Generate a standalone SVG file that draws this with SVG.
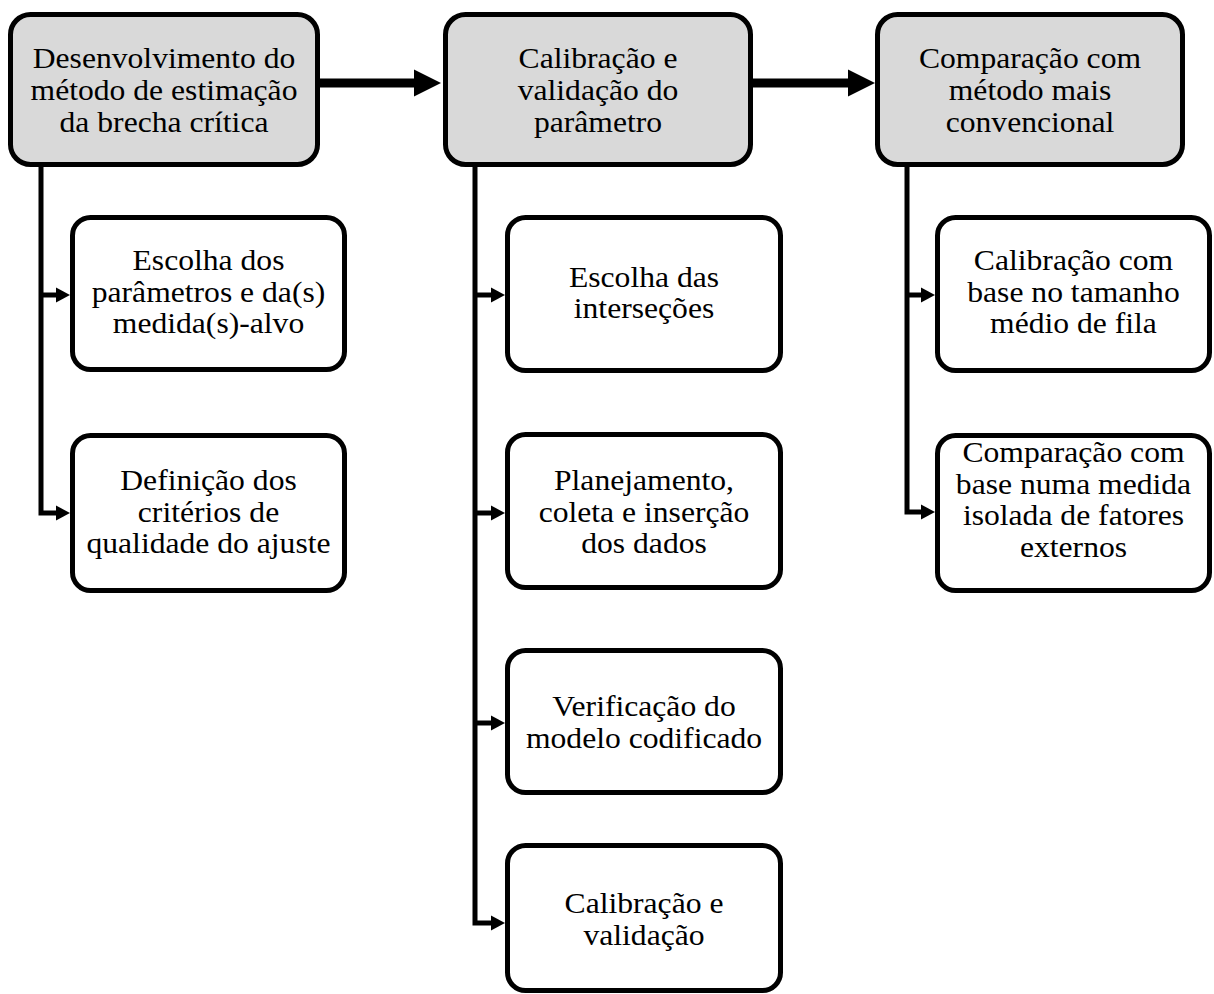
<svg xmlns="http://www.w3.org/2000/svg" width="1214" height="994" viewBox="0 0 1214 994">
<style>
.box{fill:#ffffff;stroke:#000;stroke-width:5}
.main{fill:#d9d9d9;stroke:#000;stroke-width:5}
.t{font-family:"Liberation Serif","Times New Roman",serif;font-size:28.5px;fill:#000;text-anchor:middle}
.big{stroke:#000;stroke-width:9;fill:none}
.br{stroke:#000;stroke-width:5;fill:none;stroke-linejoin:miter}
</style>
<defs>
<marker id="ahBig" markerUnits="userSpaceOnUse" markerWidth="28" markerHeight="28" refX="0" refY="13.5" orient="auto" overflow="visible">
<path d="M0,0 L27,13.5 L0,27 z" fill="#000"/>
</marker>
<marker id="ahSm" markerUnits="userSpaceOnUse" markerWidth="15" markerHeight="16" refX="0" refY="7.5" orient="auto" overflow="visible">
<path d="M0,0 L14,7.5 L0,15 z" fill="#000"/>
</marker>
</defs>
<rect width="1214" height="994" fill="#fff"/>
<g id="connectors">
<line class="big" x1="320" y1="83" x2="414" y2="83" marker-end="url(#ahBig)"/>
<line class="big" x1="753" y1="83" x2="848" y2="83" marker-end="url(#ahBig)"/>
<path class="br" d="M41,167 V513 H56" marker-end="url(#ahSm)"/>
<path class="br" d="M41,295 H56" marker-end="url(#ahSm)"/>
<path class="br" d="M475,167 V923 H491" marker-end="url(#ahSm)"/>
<path class="br" d="M475,295 H491" marker-end="url(#ahSm)"/>
<path class="br" d="M475,513 H491" marker-end="url(#ahSm)"/>
<path class="br" d="M475,723 H491" marker-end="url(#ahSm)"/>
<path class="br" d="M907,167 V512 H921" marker-end="url(#ahSm)"/>
<path class="br" d="M907,295 H921" marker-end="url(#ahSm)"/>
</g>
<g id="n-desenvolvimento">
<rect class="main" x="10.5" y="14.5" width="307" height="150" rx="20"/>
<text class="t" transform="matrix(1.11 0 0 1 164 0)"><tspan x="0" y="68">Desenvolvimento do</tspan><tspan x="0" y="100">método de estimação</tspan><tspan x="0" y="132">da brecha crítica</tspan></text>
</g>
<g id="n-calibracao-param">
<rect class="main" x="445.5" y="14.5" width="305" height="150" rx="20"/>
<text class="t" transform="matrix(1.11 0 0 1 598 0)"><tspan x="0" y="68">Calibração e</tspan><tspan x="0" y="100">validação do</tspan><tspan x="0" y="132">parâmetro</tspan></text>
</g>
<g id="n-comparacao">
<rect class="main" x="877.5" y="14.5" width="305" height="150" rx="20"/>
<text class="t" transform="matrix(1.11 0 0 1 1030 0)"><tspan x="0" y="68">Comparação com</tspan><tspan x="0" y="100">método mais</tspan><tspan x="0" y="132">convencional</tspan></text>
</g>
<g id="n-escolha-param">
<rect class="box" x="72.5" y="217.5" width="272" height="152" rx="18"/>
<text class="t" transform="matrix(1.11 0 0 1 208.5 0)"><tspan x="0" y="270">Escolha dos</tspan><tspan x="0" y="302">parâmetros e da(s)</tspan><tspan x="0" y="333">medida(s)-alvo</tspan></text>
</g>
<g id="n-definicao">
<rect class="box" x="72.5" y="435.5" width="272" height="155" rx="18"/>
<text class="t" transform="matrix(1.11 0 0 1 208.5 0)"><tspan x="0" y="490">Definição dos</tspan><tspan x="0" y="522">critérios de</tspan><tspan x="0" y="553">qualidade do ajuste</tspan></text>
</g>
<g id="n-escolha-inter">
<rect class="box" x="507.5" y="217.5" width="273" height="153" rx="18"/>
<text class="t" transform="matrix(1.11 0 0 1 644 0)"><tspan x="0" y="287">Escolha das</tspan><tspan x="0" y="318">interseções</tspan></text>
</g>
<g id="n-planejamento">
<rect class="box" x="507.5" y="434.5" width="273" height="153" rx="18"/>
<text class="t" transform="matrix(1.11 0 0 1 644 0)"><tspan x="0" y="490">Planejamento,</tspan><tspan x="0" y="522">coleta e inserção</tspan><tspan x="0" y="553">dos dados</tspan></text>
</g>
<g id="n-verificacao">
<rect class="box" x="507.5" y="650.5" width="273" height="142" rx="18"/>
<text class="t" transform="matrix(1.11 0 0 1 644 0)"><tspan x="0" y="716">Verificação do</tspan><tspan x="0" y="748">modelo codificado</tspan></text>
</g>
<g id="n-calib-valid">
<rect class="box" x="507.5" y="845.5" width="273" height="145" rx="18"/>
<text class="t" transform="matrix(1.11 0 0 1 644 0)"><tspan x="0" y="913">Calibração e</tspan><tspan x="0" y="945">validação</tspan></text>
</g>
<g id="n-calib-fila">
<rect class="box" x="937.5" y="217.5" width="272" height="153" rx="18"/>
<text class="t" transform="matrix(1.11 0 0 1 1073.5 0)"><tspan x="0" y="270">Calibração com</tspan><tspan x="0" y="302">base no tamanho</tspan><tspan x="0" y="333">médio de fila</tspan></text>
</g>
<g id="n-comp-medida">
<rect class="box" x="937.5" y="435.5" width="272" height="155" rx="18"/>
<text class="t" transform="matrix(1.11 0 0 1 1073.5 0)"><tspan x="0" y="462">Comparação com</tspan><tspan x="0" y="494">base numa medida</tspan><tspan x="0" y="525">isolada de fatores</tspan><tspan x="0" y="557">externos</tspan></text>
</g>
</svg>
